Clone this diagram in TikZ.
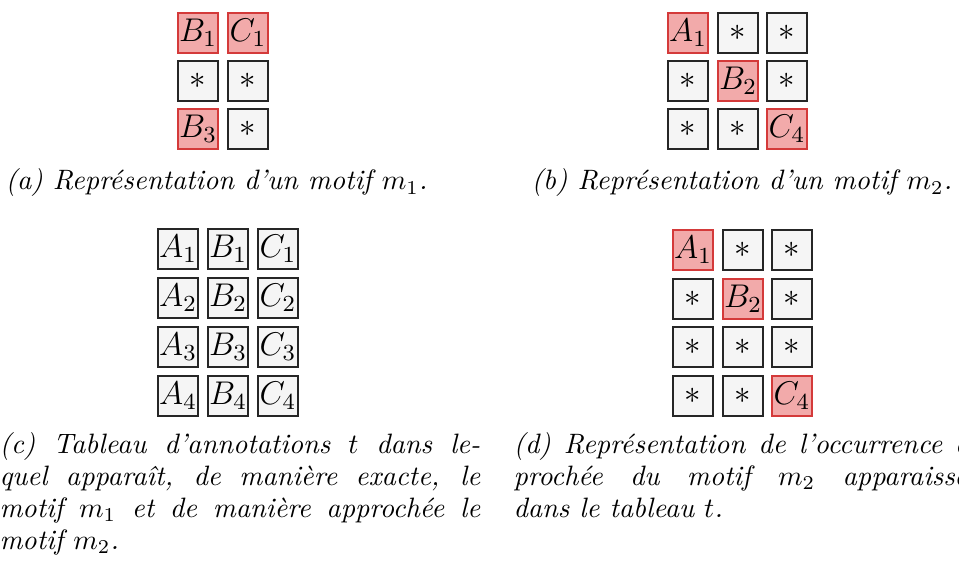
\RequirePackage{fix-cm}
\documentclass[tikz,border=0pt]{standalone}
\usepackage{amsmath}
\definecolor{fondgris}{HTML}{F5F5F5}
\definecolor{bordgris}{HTML}{262626}
\definecolor{fondrouge}{HTML}{F2AAAA}
\definecolor{bordrouge}{HTML}{D43A3A}

\begin{document}
\begin{tikzpicture}[x=0.3745pt,y=-0.3745pt]
    \tikzstyle{cellule}=[draw=bordgris, fill=fondgris, line width=0.85pt, minimum size=15pt, inner sep=0pt, font=\fontsize{12.3}{12.1}\selectfont]
    \tikzstyle{marque}=[cellule, draw=bordrouge, fill=fondrouge]
    \tikzstyle{legende}=[inner sep=0pt, font=\fontsize{10.5}{12}\selectfont\itshape]
    \useasboundingbox (0,0) rectangle (959,572);
    \clip (0,0) rectangle (959,572);
    % (a) motif m1
    \node [marque]  (a11) at (198,33) {$B_1$};
    \node [marque]  (a12) at (248,33) {$C_1$};
    \node [cellule] (a21) at (198,81) {$*$};
    \node [cellule] (a22) at (248,81) {$*$};
    \node [marque]  (a31) at (198,129) {$B_3$};
    \node [cellule] (a32) at (248,129) {$*$};
    \node [legende, anchor=base west] (leg-a) at (5,190) {(a) Représentation d’un motif $m_1$.};
    % (b) motif m2
    \node [marque]  (b11) at (688,33) {$A_1$};
    \node [cellule] (b12) at (738,33) {$*$};
    \node [cellule] (b13) at (787,33) {$*$};
    \node [cellule] (b21) at (688,81) {$*$};
    \node [marque]  (b22) at (738,81) {$B_2$};
    \node [cellule] (b23) at (787,81) {$*$};
    \node [cellule] (b31) at (688,129) {$*$};
    \node [cellule] (b32) at (738,129) {$*$};
    \node [marque]  (b33) at (787,129) {$C_4$};
    \node [legende, anchor=base] (leg-b) at (742,190) {(b) Représentation d’un motif $m_2$.};
    % (c) tableau t
    \node [cellule] (c11) at (178,249) {$A_1$};
    \node [cellule] (c12) at (228,249) {$B_1$};
    \node [cellule] (c13) at (278,249) {$C_1$};
    \node [cellule] (c21) at (178,298) {$A_2$};
    \node [cellule] (c22) at (228,298) {$B_2$};
    \node [cellule] (c23) at (278,298) {$C_2$};
    \node [cellule] (c31) at (178,347) {$A_3$};
    \node [cellule] (c32) at (228,347) {$B_3$};
    \node [cellule] (c33) at (278,347) {$C_3$};
    \node [cellule] (c41) at (178,396) {$A_4$};
    \node [cellule] (c42) at (228,396) {$B_4$};
    \node [cellule] (c43) at (278,396) {$C_4$};
    \node [legende, anchor=north west, text width=180pt, align=justify] (leg-c) at (-1,432)
        {(c) Tableau d’annotations $t$ dans le-\linebreak quel apparaît, de manière exacte, le\linebreak motif $m_1$ et de manière approchée le\linebreak motif $m_2$.};
    % (d) occurrence approchee de m2 dans t
    \node [marque]  (d11) at (693,250) {$A_1$};
    \node [cellule] (d12) at (743,250) {$*$};
    \node [cellule] (d13) at (792,250) {$*$};
    \node [cellule] (d21) at (693,299) {$*$};
    \node [marque]  (d22) at (743,299) {$B_2$};
    \node [cellule] (d23) at (792,299) {$*$};
    \node [cellule] (d31) at (693,347) {$*$};
    \node [cellule] (d32) at (743,347) {$*$};
    \node [cellule] (d33) at (792,347) {$*$};
    \node [cellule] (d41) at (693,396) {$*$};
    \node [cellule] (d42) at (743,396) {$*$};
    \node [marque]  (d43) at (792,396) {$C_4$};
    \node [legende, anchor=north west, text width=180pt, align=justify] (leg-d) at (513,432)
        {(d) Représentation de l’occurrence ap-\linebreak prochée du motif $m_2$ apparaissant\linebreak dans le tableau $t$.};
\end{tikzpicture}
\end{document}
